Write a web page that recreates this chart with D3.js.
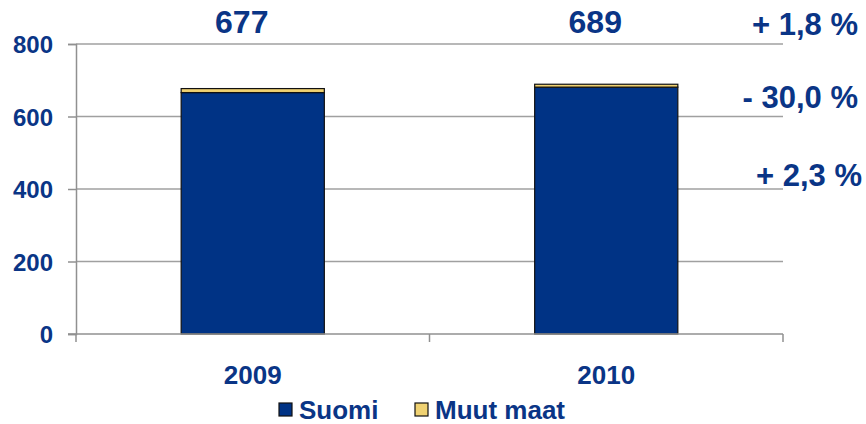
<!DOCTYPE html>
<html>
<head>
<meta charset="utf-8">
<script src="https://cdn.jsdelivr.net/npm/d3@7"></script>
<style>
  body { margin: 0; background: #fff; }
  text { font-family: Arial, "Liberation Sans", sans-serif; font-weight: bold; fill: #0a3586; }
</style>
</head>
<body>
<div id="chart"></div>
<script>
// data
var years = ["2009", "2010"];
var suomi = [666, 681];
var muutMaat = [11, 8];
var totals = [677, 689];
var changes = ["+ 1,8 %", "- 30,0 %", "+ 2,3 %"];
var changeAnchors = [800, 600, 400];   // gridline each change label sits on
var seriesNames = ["Suomi", "Muut maat"];
var yTicks = [0, 200, 400, 600, 800];

(function() {
    var width = 866, height = 424;
    var mLeft = 76, mRight = 783, mTop = 44, mBottom = 334;
    var colors = ["#003385", "#f0d272"];
    var changeShift = [[858, -9], [858, -9], [862, -3]];

    var svg = d3.select("#chart").append("svg")
        .attr("width", width).attr("height", height);

    var x = d3.scaleBand().domain(years).range([mLeft, mRight]).paddingInner(0).paddingOuter(0);
    var y = d3.scaleLinear().domain([0, 800]).range([mBottom, mTop]);
    var barW = x.bandwidth() * 0.405;

    // gridlines
    svg.append("g").selectAll("line")
        .data(yTicks.filter(d => d > 0))
        .enter().append("line")
        .attr("x1", mLeft).attr("x2", mRight)
        .attr("y1", d => y(d)).attr("y2", d => y(d))
        .attr("stroke", "#a0a0a0").attr("stroke-width", 1.5);

    // stacked bars
    var rows = years.map((yr, i) => ({ year: yr, Suomi: suomi[i], "Muut maat": muutMaat[i] }));
    var stack = d3.stack().keys(seriesNames)(rows);
    svg.append("g").selectAll("g")
        .data(stack)
        .enter().append("g")
        .attr("fill", (d, i) => colors[i])
        .selectAll("rect")
        .data(d => d)
        .enter().append("rect")
        .attr("x", d => x(d.data.year) + (x.bandwidth() - barW) / 2)
        .attr("width", barW)
        .attr("y", d => y(d[1]))
        .attr("height", d => y(d[0]) - y(d[1]))
        .attr("stroke", "#111").attr("stroke-width", 1.2);

    // y axis
    var yAxis = svg.append("g").attr("transform", "translate(" + mLeft + ",0)")
        .call(d3.axisLeft(y).tickValues(yTicks).tickSize(8).tickPadding(15).tickFormat(d3.format("d")));
    yAxis.select(".domain").attr("stroke", "#909090").attr("stroke-width", 1.5);
    yAxis.selectAll(".tick line").attr("stroke", "#909090").attr("stroke-width", 1.5);
    yAxis.selectAll(".tick text").style("font-size", "24px").attr("dy", "0.36em");

    // x axis with ticks at category boundaries
    svg.append("line")
        .attr("x1", mLeft - 8).attr("x2", mRight)
        .attr("y1", mBottom).attr("y2", mBottom)
        .attr("stroke", "#909090").attr("stroke-width", 1.5);
    svg.append("g").selectAll("line")
        .data([years[0], years[1], null])
        .enter().append("line")
        .attr("x1", d => d ? x(d) : mRight).attr("x2", d => d ? x(d) : mRight)
        .attr("y1", mBottom).attr("y2", mBottom + 8)
        .attr("stroke", "#909090").attr("stroke-width", 1.5);
    svg.append("g").selectAll("text")
        .data(years)
        .enter().append("text")
        .attr("x", d => x(d) + x.bandwidth() / 2)
        .attr("y", 384)
        .attr("text-anchor", "middle")
        .style("font-size", "26px")
        .text(d => d);

    // totals above the plot
    svg.append("g").selectAll("text")
        .data(totals)
        .enter().append("text")
        .attr("x", (d, i) => x(years[i]) + x.bandwidth() / 2 - 11)
        .attr("y", 33)
        .attr("text-anchor", "middle")
        .style("font-size", "32px")
        .text(d => d);

    // change labels on the right
    svg.append("g").selectAll("text")
        .data(changes)
        .enter().append("text")
        .attr("x", (d, i) => changeShift[i][0])
        .attr("y", (d, i) => y(changeAnchors[i]) + changeShift[i][1])
        .attr("text-anchor", "end")
        .style("font-size", "31px")
        .text(d => d);

    // legend
    var legend = svg.append("g").selectAll("g")
        .data(seriesNames)
        .enter().append("g")
        .attr("transform", (d, i) => "translate(" + [279, 415][i] + ",403)");
    legend.append("rect")
        .attr("width", 13).attr("height", 13)
        .attr("fill", (d, i) => colors[i])
        .attr("stroke", "#111").attr("stroke-width", 1.2);
    legend.append("text")
        .attr("x", 20).attr("y", 16)
        .style("font-size", "26px")
        .text(d => d);
})();
</script>
</body>
</html>
